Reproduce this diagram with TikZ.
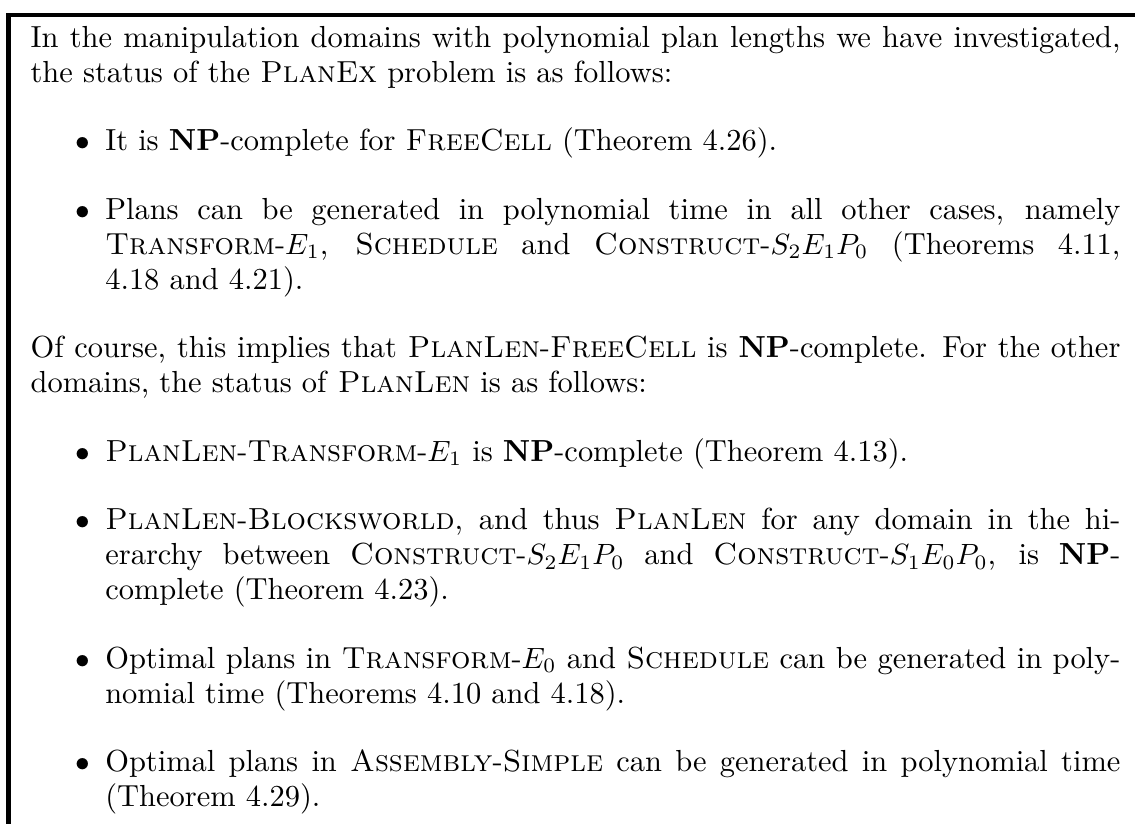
\documentclass[tikz,border=0pt]{standalone}
\newenvironment{bullist}{\begin{list}{$\bullet$}{\setlength{\leftmargin}{25.5pt}\setlength{\labelwidth}{20.5pt}\setlength{\labelsep}{5pt}\setlength{\topsep}{11.3pt}\setlength{\itemsep}{11.3pt}\setlength{\parsep}{0pt}\setlength{\partopsep}{0pt}\setlength{\rightmargin}{0pt}}}{\end{list}}
\newcommand{\NPc}{\textbf{NP}}
\begin{document}
\begin{tikzpicture}[x=1pt,y=1pt,
  frame/.style={line width=1.6pt, line join=miter},
  body/.style={anchor=north west, inner sep=0pt, text width=372pt, align=justify, font=\fontsize{10.4pt}{12pt}\selectfont}]
\useasboundingbox (0,0) rectangle (387.4,-281.2);
\coordinate (bl) at (2.9,-281.2);
\coordinate (tl) at (2.9,-5.1);
\coordinate (tr) at (387.4,-5.1);
\draw[frame] (bl) -- (tl) -- (tr);
\node[body] (txt) at (10.24,-8.8) {\parindent=0pt
In the manipulation domains with polynomial plan lengths we have investigated,\linebreak
the status of the \textsc{PlanEx} problem is as follows:
\begin{bullist}
\item It is \NPc-complete for \textsc{FreeCell} (Theorem 4.26).
\item Plans can be generated in polynomial time in all other cases, namely\linebreak
\textsc{Transform}-$E_1$, \textsc{Schedule} and \textsc{Construct}-$S_2E_1P_0$ (Theorems 4.11,\linebreak
4.18 and 4.21).
\end{bullist}
Of course, this implies that \textsc{PlanLen}-\textsc{FreeCell} is \NPc-complete. For the other\linebreak
domains, the status of \textsc{PlanLen} is as follows:
\begin{bullist}
\item \textsc{PlanLen}-\textsc{Transform}-$E_1$ is \NPc-complete (Theorem 4.13).
\item \textsc{PlanLen}-\textsc{Blocksworld}, and thus \textsc{PlanLen} for any domain in the hi-\linebreak
erarchy between \textsc{Construct}-$S_2E_1P_0$ and \textsc{Construct}-$S_1E_0P_0$, is \NPc-\linebreak
complete (Theorem 4.23).
\item Optimal plans in \textsc{Transform}-$E_0$ and \textsc{Schedule} can be generated in poly-\linebreak
nomial time (Theorems 4.10 and 4.18).
\item Optimal plans in \textsc{Assembly}-\textsc{Simple} can be generated in polynomial time\linebreak
(Theorem 4.29).
\end{bullist}
};
\end{tikzpicture}
\end{document}
